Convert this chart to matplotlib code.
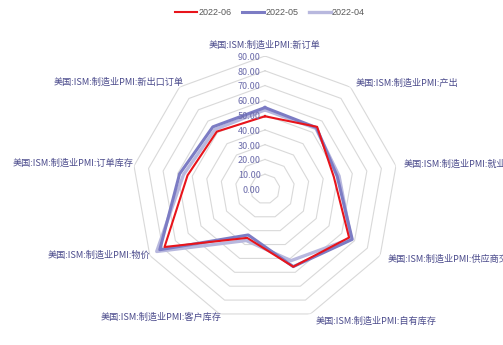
import numpy as np
import matplotlib
matplotlib.use('Agg')
from matplotlib import pyplot as plt
from matplotlib.transforms import offset_copy

plt.rcParams['font.family'] = ['Noto Sans CJK SC', 'DejaVu Sans']

# ISM manufacturing sub-indices
categories = ['新订单', '产出', '就业', '供应商交付', '自有库存',
              '客户库存', '物价', '订单库存', '新出口订单']
pmi_2022_06 = [49.2, 54.9, 47.3, 65.7, 56.0, 35.2, 78.5, 53.2, 50.7]
pmi_2022_05 = [55.1, 54.2, 49.6, 68.2, 55.9, 33.1, 82.2, 58.7, 54.9]
pmi_2022_04 = [53.5, 53.6, 50.9, 67.2, 51.6, 37.1, 84.6, 56.0, 52.6]
ring_values = [10, 20, 30, 40, 50, 60, 70, 80, 90]
tick_values = [0, 10, 20, 30, 40, 50, 60, 70, 80, 90]

label_color = '#4B4B8C'

fig = plt.figure(figsize=(5.03, 3.45), dpi=100)
ax = fig.add_axes([0.2624, 0.0667, 0.5288, 0.7710], projection='polar')
ax.set_theta_offset(np.pi / 2)
ax.set_theta_direction(-1)
ax.set_ylim(0, 90)
ax.set_xticks([])
ax.set_yticks([])
ax.grid(False)
ax.spines['polar'].set_visible(False)
ax.patch.set_visible(False)

n = len(categories)
theta = np.linspace(0, 2 * np.pi, n, endpoint=False)
theta_c = np.append(theta, theta[0])

# polygon grid rings
for v in ring_values:
    ax.plot(theta_c, [v] * (n + 1), color='#D9D9D9', lw=0.8, zorder=1)

# value labels along the top axis
trans = offset_copy(ax.transData, fig=fig, x=-3, y=-1, units='points')
for v in tick_values:
    ax.text(0, v, f'{v:.2f}', transform=trans, ha='right', va='center',
            fontsize=6.5, color='#6B6BAA', zorder=5)

def closed(vals):
    return list(vals) + [vals[0]]

l4, = ax.plot(theta_c, closed(pmi_2022_04), color='#B8B8DE', lw=2.4, zorder=2)
l5, = ax.plot(theta_c, closed(pmi_2022_05), color='#7C7CC4', lw=2.2, zorder=3)
l6, = ax.plot(theta_c, closed(pmi_2022_06), color='#E8141B', lw=1.5, zorder=4)

# category labels (radius, x/y nudge in points)
label_r = [94, 95.5, 95.5, 95.5, 95.5, 91, 90, 90, 91]
label_nudge = [(0, 0), (0, -1.5), (0, 0), (0, 0), (2, 0),
               (2, -1), (0, 0), (0, 2), (3.5, 3)]
for i, (t, name) in enumerate(zip(theta, categories)):
    deg = np.degrees(t) % 360
    if i == 0:
        ha, va = 'center', 'bottom'
    elif deg < 180:
        ha, va = 'left', 'center'
    else:
        ha, va = 'right', 'center'
    dx, dy = label_nudge[i]
    tr = offset_copy(ax.transData, fig=fig, x=dx, y=dy, units='points')
    ax.text(t, label_r[i], f'美国:ISM:制造业PMI:{name}', transform=tr,
            ha=ha, va=va, fontsize=6.6, color=label_color, clip_on=False)

fig.legend([l6, l5, l4], ['2022-06', '2022-05', '2022-04'], loc='upper center',
           bbox_to_anchor=(0.537, 1.0), ncol=3, frameon=False,
           handlelength=2.4, handletextpad=0.15, columnspacing=1.2,
           labelcolor='#595959', prop={'family': ['Liberation Sans'], 'size': 6.5})

fig.savefig('out.png', dpi=100)
